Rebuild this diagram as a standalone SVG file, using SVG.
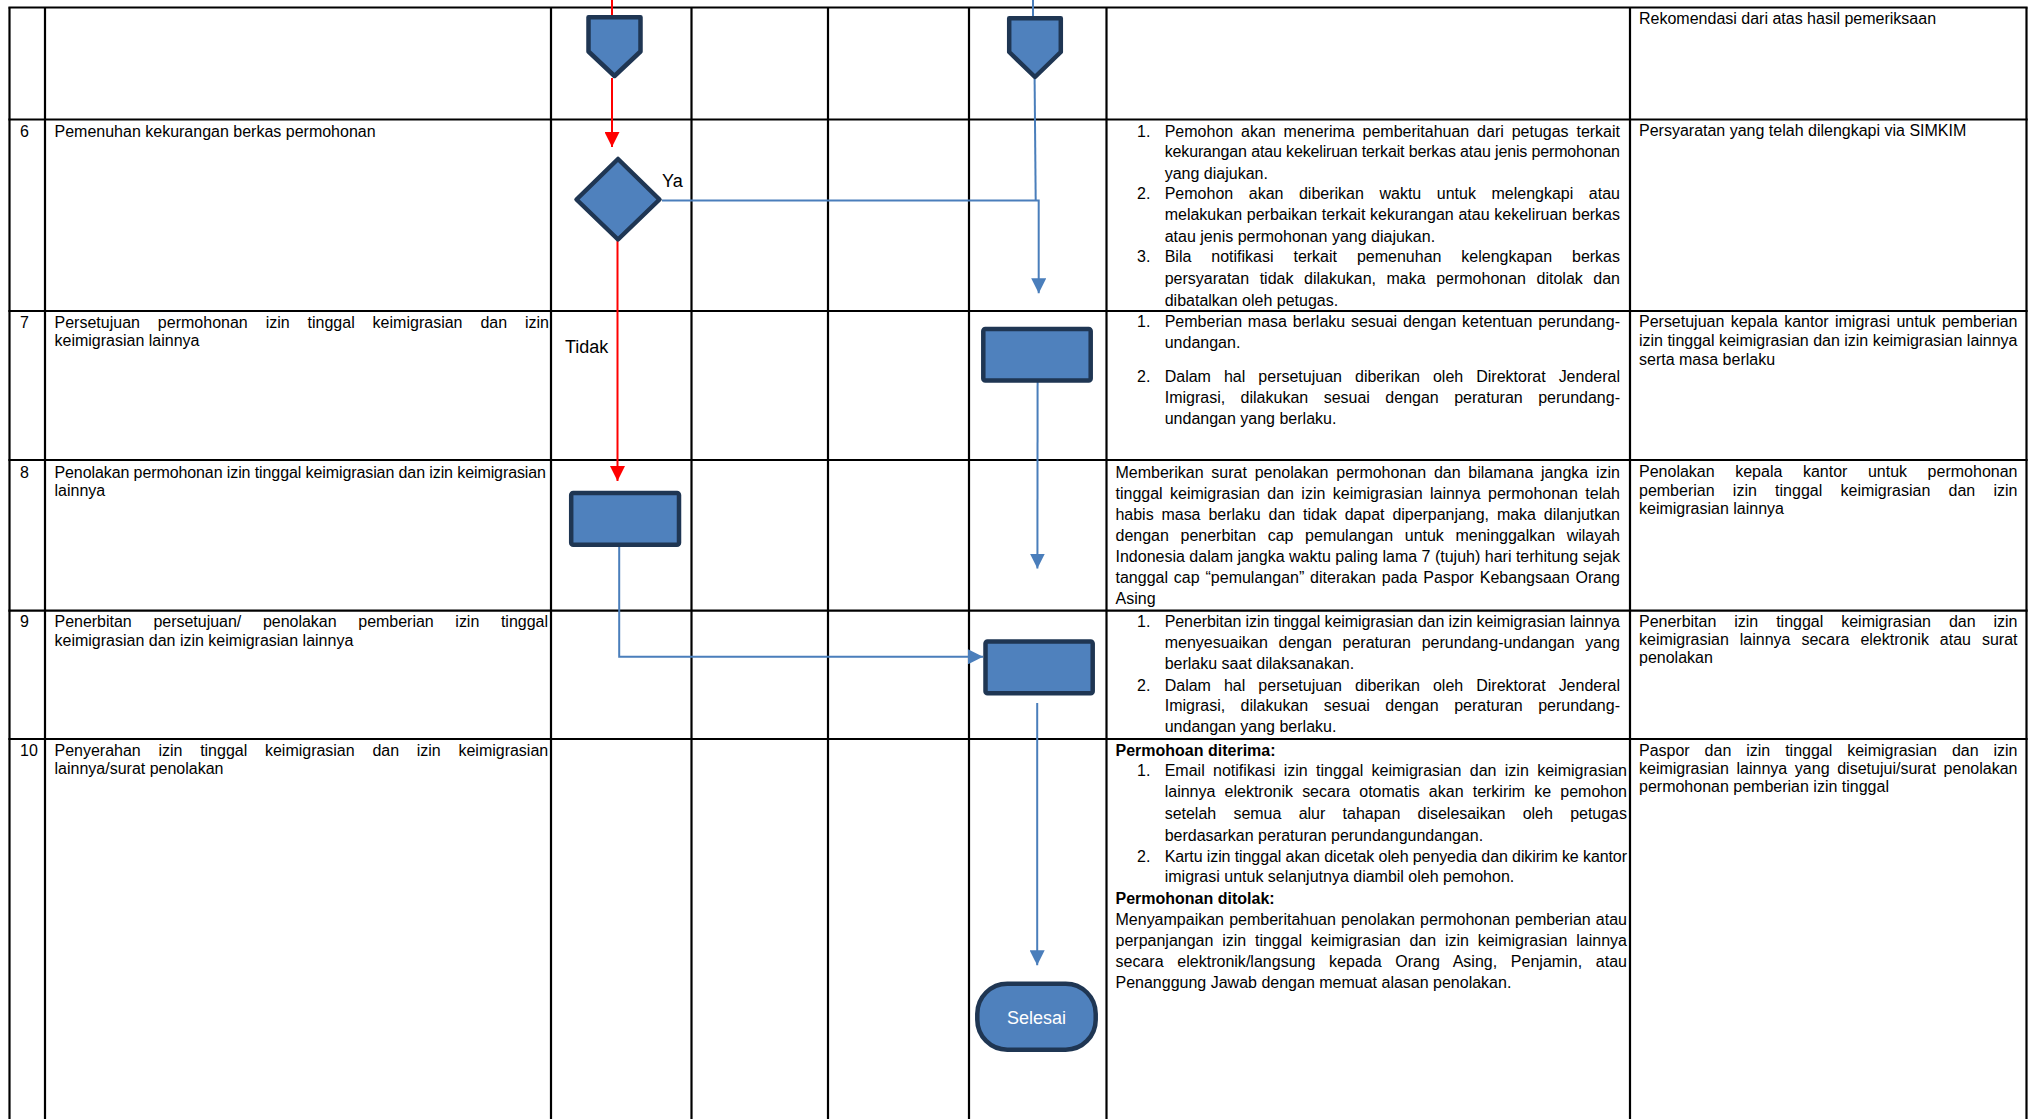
<svg xmlns="http://www.w3.org/2000/svg" width="2033" height="1119" viewBox="0 0 2033 1119">
<style>
.t{font-family:"Liberation Sans",Arial,sans-serif;font-size:16px;fill:#000}
.b{font-weight:bold}
.lbl{font-family:"Liberation Sans",Arial,sans-serif;font-size:18px;fill:#000}
.wl{font-family:"Liberation Sans",Arial,sans-serif;font-size:18px;fill:#fff;text-anchor:middle}
.grid line{stroke:#000;stroke-width:2.2}
.shape{fill:#4F81BD;stroke:#1F3653;stroke-width:4.5;stroke-linejoin:round}
.red{stroke:#FF0000;stroke-width:2;fill:none}
.blue{stroke:#4A7EBB;stroke-width:2;fill:none}
</style>
<defs>
<marker id="ar" viewBox="0 0 15 15" markerUnits="userSpaceOnUse" markerWidth="15" markerHeight="15" refX="15" refY="7.5" orient="auto"><path d="M0,0 L15,7.5 L0,15 z" fill="#FF0000"/></marker>
<marker id="ab" viewBox="0 0 15 15" markerUnits="userSpaceOnUse" markerWidth="15" markerHeight="15" refX="15" refY="7.5" orient="auto"><path d="M0,0 L15,7.5 L0,15 z" fill="#4A7EBB"/></marker>
</defs>
<rect width="2033" height="1119" fill="#fff"/>
<g class="grid">
<line x1="9.5" y1="7.5" x2="9.5" y2="1119"/>
<line x1="45" y1="7.5" x2="45" y2="1119"/>
<line x1="551" y1="7.5" x2="551" y2="1119"/>
<line x1="691.5" y1="7.5" x2="691.5" y2="1119"/>
<line x1="828" y1="7.5" x2="828" y2="1119"/>
<line x1="969" y1="7.5" x2="969" y2="1119"/>
<line x1="1106.5" y1="7.5" x2="1106.5" y2="1119"/>
<line x1="1630" y1="7.5" x2="1630" y2="1119"/>
<line x1="2026.5" y1="7.5" x2="2026.5" y2="1119"/>
<line x1="8.4" y1="7.5" x2="2027.6" y2="7.5"/>
<line x1="8.4" y1="119.5" x2="2027.6" y2="119.5"/>
<line x1="8.4" y1="311" x2="2027.6" y2="311"/>
<line x1="8.4" y1="460" x2="2027.6" y2="460"/>
<line x1="8.4" y1="610.7" x2="2027.6" y2="610.7"/>
<line x1="8.4" y1="739" x2="2027.6" y2="739"/>
</g>
<g id="connectors">
<path class="red" d="M612,0 L612,16"/>
<path class="red" d="M612,78 L612,147" marker-end="url(#ar)"/>
<path class="red" d="M617.5,241 L617.5,481" marker-end="url(#ar)"/>
<path class="blue" d="M1033,0 L1033,17"/>
<path class="blue" d="M1034.6,78 L1035.7,200.5"/>
<path class="blue" d="M662,200.5 L1038.7,200.5 L1038.7,293.3" marker-end="url(#ab)"/>
<path class="blue" d="M1037.6,382 L1037.4,568.6" marker-end="url(#ab)"/>
<path class="blue" d="M619.2,546 L619.2,656.8 L983,656.8" marker-end="url(#ab)"/>
<path class="blue" d="M1037.2,703 L1037.2,965.3" marker-end="url(#ab)"/>
</g>
<g id="offpage1"><polygon class="shape" points="588.5,17.3 640.5,17.3 640.5,51.5 614.5,76 588.5,51.5"/></g>
<g id="offpage2"><polygon class="shape" points="1009.2,18.3 1060.8,18.3 1060.8,52 1035,77 1009.2,52"/></g>
<g id="decision"><polygon class="shape" points="618,159 659.5,199.5 618,239.5 576.5,199.5"/>
<text class="lbl" x="662" y="187.3">Ya</text>
<text class="lbl" x="565" y="352.7">Tidak</text></g>
<g id="process7"><rect class="shape" x="983.3" y="329" width="107.4" height="51.5" rx="2"/></g>
<g id="process8"><rect class="shape" x="571.2" y="493" width="107.8" height="51.7" rx="2"/></g>
<g id="process9"><rect class="shape" x="985.5" y="641.5" width="107.2" height="51.7" rx="2"/></g>
<g id="terminator"><rect class="shape" x="977.3" y="983.7" width="118.4" height="66" rx="30"/>
<text class="wl" x="1036.5" y="1023.5">Selesai</text></g>
<g id="col-no" class="t">
<text x="20" y="136.5">6</text>
<text x="20" y="327.5">7</text>
<text x="20" y="477.5">8</text>
<text x="20" y="627.2">9</text>
<text x="20" y="755.5">10</text>
</g>
<g id="col-activity" class="t">
<text x="54.5" y="136.5">Pemenuhan kekurangan berkas permohonan</text>
<text x="54.5" y="327.5" word-spacing="13.4" textLength="494.5" lengthAdjust="spacing">Persetujuan permohonan izin tinggal keimigrasian dan izin</text>
<text x="54.5" y="346">keimigrasian lainnya</text>
<text x="54.5" y="477.5" textLength="491.5" lengthAdjust="spacing">Penolakan permohonan izin tinggal keimigrasian dan izin keimigrasian</text>
<text x="54.5" y="496">lainnya</text>
<text x="54.5" y="627.2" word-spacing="17.2" textLength="493.5" lengthAdjust="spacing">Penerbitan persetujuan/ penolakan pemberian izin tinggal</text>
<text x="54.5" y="645.5">keimigrasian dan izin keimigrasian lainnya</text>
<text x="54.5" y="755.5" word-spacing="13.3" textLength="493.7" lengthAdjust="spacing">Penyerahan izin tinggal keimigrasian dan izin keimigrasian</text>
<text x="54.5" y="774">lainnya/surat penolakan</text>
</g>
<g id="col-desc" class="t">
<text x="1137" y="136.5">1.</text>
<text x="1164.7" y="136.5" word-spacing="3.4" textLength="455.3" lengthAdjust="spacing">Pemohon akan menerima pemberitahuan dari petugas terkait</text>
<text x="1164.7" y="157.2" textLength="455.3" lengthAdjust="spacing">kekurangan atau kekeliruan terkait berkas atau jenis permohonan</text>
<text x="1164.7" y="178.5">yang diajukan.</text>
<text x="1137" y="198.8">2.</text>
<text x="1164.7" y="198.8" word-spacing="11.1" textLength="455.3" lengthAdjust="spacing">Pemohon akan diberikan waktu untuk melengkapi atau</text>
<text x="1164.7" y="219.8" word-spacing="0.3" textLength="455.3" lengthAdjust="spacing">melakukan perbaikan terkait kekurangan atau kekeliruan berkas</text>
<text x="1164.7" y="241.5">atau jenis permohonan yang diajukan.</text>
<text x="1137" y="262.2">3.</text>
<text x="1164.7" y="262.2" word-spacing="15.5" textLength="455.3" lengthAdjust="spacing">Bila notifikasi terkait pemenuhan kelengkapan berkas</text>
<text x="1164.7" y="283.8" word-spacing="6.1" textLength="455.3" lengthAdjust="spacing">persyaratan tidak dilakukan, maka permohonan ditolak dan</text>
<text x="1164.7" y="305.5">dibatalkan oleh petugas.</text>

<text x="1137" y="327.2">1.</text>
<text x="1164.7" y="327.2" word-spacing="1.3" textLength="455.3" lengthAdjust="spacing">Pemberian masa berlaku sesuai dengan ketentuan perundang-</text>
<text x="1164.7" y="348.2">undangan.</text>
<text x="1137" y="382.2">2.</text>
<text x="1164.7" y="382.2" word-spacing="8.6" textLength="455.3" lengthAdjust="spacing">Dalam hal persetujuan diberikan oleh Direktorat Jenderal</text>
<text x="1164.7" y="403.2" word-spacing="11" textLength="455.3" lengthAdjust="spacing">Imigrasi, dilakukan sesuai dengan peraturan perundang-</text>
<text x="1164.7" y="423.8">undangan yang berlaku.</text>

<text x="1115.5" y="477.8" word-spacing="3.3" textLength="504.5" lengthAdjust="spacing">Memberikan surat penolakan permohonan dan bilamana jangka izin</text>
<text x="1115.5" y="498.8" word-spacing="3" textLength="504.5" lengthAdjust="spacing">tinggal keimigrasian dan izin keimigrasian lainnya permohonan telah</text>
<text x="1115.5" y="519.5" word-spacing="3.5" textLength="504.5" lengthAdjust="spacing">habis masa berlaku dan tidak dapat diperpanjang, maka dilanjutkan</text>
<text x="1115.5" y="541.2" word-spacing="7.2" textLength="504.5" lengthAdjust="spacing">dengan penerbitan cap pemulangan untuk meninggalkan wilayah</text>
<text x="1115.5" y="562.2" textLength="504.5" lengthAdjust="spacing">Indonesia dalam jangka waktu paling lama 7 (tujuh) hari terhitung sejak</text>
<text x="1115.5" y="583.2" word-spacing="1.4" textLength="504.5" lengthAdjust="spacing">tanggal cap “pemulangan” diterakan pada Paspor Kebangsaan Orang</text>
<text x="1115.5" y="603.8">Asing</text>

<text x="1137" y="627.2">1.</text>
<text x="1164.7" y="627.2" textLength="455.3" lengthAdjust="spacing">Penerbitan izin tinggal keimigrasian dan izin keimigrasian lainnya</text>
<text x="1164.7" y="648.2" word-spacing="6.2" textLength="455.3" lengthAdjust="spacing">menyesuaikan dengan peraturan perundang-undangan yang</text>
<text x="1164.7" y="668.8">berlaku saat dilaksanakan.</text>
<text x="1137" y="690.5">2.</text>
<text x="1164.7" y="690.5" word-spacing="8.6" textLength="455.3" lengthAdjust="spacing">Dalam hal persetujuan diberikan oleh Direktorat Jenderal</text>
<text x="1164.7" y="711.2" word-spacing="11" textLength="455.3" lengthAdjust="spacing">Imigrasi, dilakukan sesuai dengan peraturan perundang-</text>
<text x="1164.7" y="732.2">undangan yang berlaku.</text>

<text class="b" x="1115.5" y="755.5">Permohoan diterima:</text>
<text x="1137" y="776.2">1.</text>
<text x="1164.7" y="776.2" word-spacing="3.9" textLength="462.3" lengthAdjust="spacing">Email notifikasi izin tinggal keimigrasian dan izin keimigrasian</text>
<text x="1164.7" y="797.2" word-spacing="4.7" textLength="462.3" lengthAdjust="spacing">lainnya elektronik secara otomatis akan terkirim ke pemohon</text>
<text x="1164.7" y="818.8" word-spacing="12.9" textLength="462.3" lengthAdjust="spacing">setelah semua alur tahapan diselesaikan oleh petugas</text>
<text x="1164.7" y="840.5">berdasarkan peraturan perundangundangan.</text>
<text x="1137" y="861.5">2.</text>
<text x="1164.7" y="861.5" textLength="462.3" lengthAdjust="spacing">Kartu izin tinggal akan dicetak oleh penyedia dan dikirim ke kantor</text>
<text x="1164.7" y="882.2">imigrasi untuk selanjutnya diambil oleh pemohon.</text>
<text class="b" x="1115.5" y="903.8">Permohonan ditolak:</text>
<text x="1115.5" y="924.8" word-spacing="0.7" textLength="511.5" lengthAdjust="spacing">Menyampaikan pemberitahuan penolakan permohonan pemberian atau</text>
<text x="1115.5" y="945.5" word-spacing="4.3" textLength="511.5" lengthAdjust="spacing">perpanjangan izin tinggal keimigrasian dan izin keimigrasian lainnya</text>
<text x="1115.5" y="967.2" word-spacing="9.2" textLength="511.5" lengthAdjust="spacing">secara elektronik/langsung kepada Orang Asing, Penjamin, atau</text>
<text x="1115.5" y="987.8">Penanggung Jawab dengan memuat alasan penolakan.</text>
</g>
<g id="col-output" class="t">
<text x="1639" y="23.8">Rekomendasi dari atas hasil pemeriksaan</text>
<text x="1639" y="136">Persyaratan yang telah dilengkapi via SIMKIM</text>
<text x="1639" y="327.3" word-spacing="1.9" textLength="378.5" lengthAdjust="spacing">Persetujuan kepala kantor imigrasi untuk pemberian</text>
<text x="1639" y="346.3" textLength="378.5" lengthAdjust="spacing">izin tinggal keimigrasian dan izin keimigrasian lainnya</text>
<text x="1639" y="365.3">serta masa berlaku</text>
<text x="1639" y="477.3" word-spacing="16.1" textLength="378.5" lengthAdjust="spacing">Penolakan kepala kantor untuk permohonan</text>
<text x="1639" y="495.6" word-spacing="13.8" textLength="378.5" lengthAdjust="spacing">pemberian izin tinggal keimigrasian dan izin</text>
<text x="1639" y="513.9">keimigrasian lainnya</text>
<text x="1639" y="626.8" word-spacing="13.5" textLength="378.5" lengthAdjust="spacing">Penerbitan izin tinggal keimigrasian dan izin</text>
<text x="1639" y="645.1" word-spacing="6.5" textLength="378.5" lengthAdjust="spacing">keimigrasian lainnya secara elektronik atau surat</text>
<text x="1639" y="663.4">penolakan</text>
<text x="1639" y="755.5" word-spacing="10.5" textLength="378.5" lengthAdjust="spacing">Paspor dan izin tinggal keimigrasian dan izin</text>
<text x="1639" y="773.8" word-spacing="3.2" textLength="378.5" lengthAdjust="spacing">keimigrasian lainnya yang disetujui/surat penolakan</text>
<text x="1639" y="792.1">permohonan pemberian izin tinggal</text>
</g>
</svg>
